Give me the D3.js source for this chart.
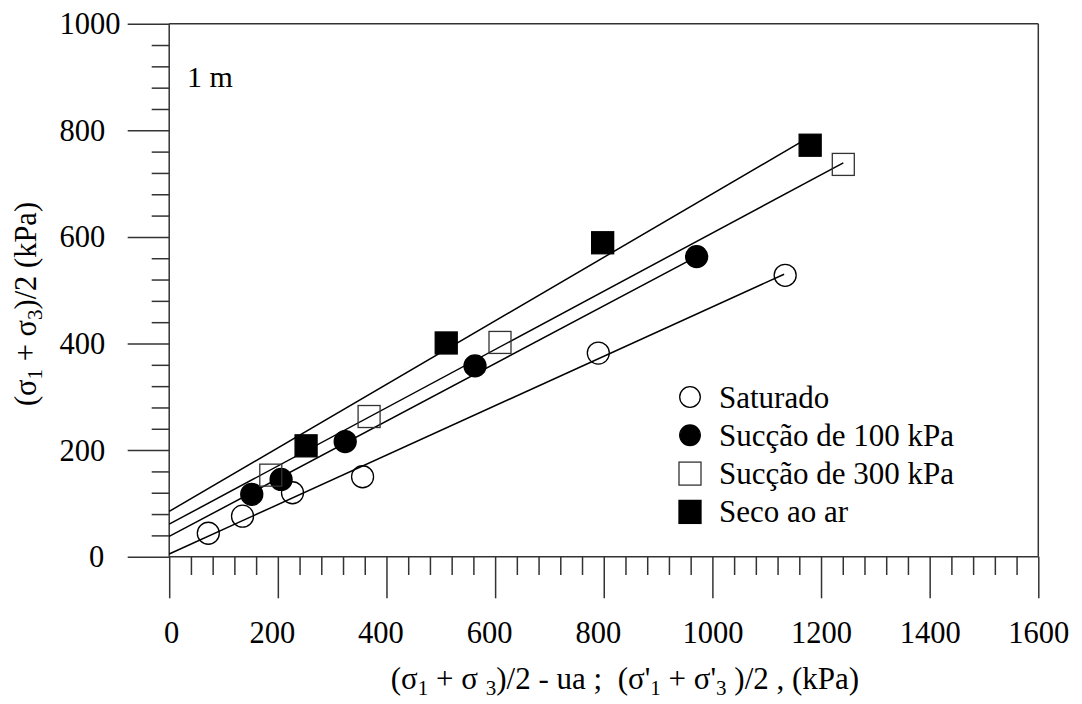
<!DOCTYPE html>
<html>
<head>
<meta charset="utf-8">
<script src="https://cdn.jsdelivr.net/npm/d3@7"></script>
<style>
  body { margin: 0; background: #fff; }
  #chart text, #chart tspan { font-family: "Liberation Serif", "Times New Roman", Tinos, serif; }
</style>
</head>
<body>
<svg id="chart" width="1082" height="704" font-family="Liberation Serif"></svg>
<script>
// ---- data ----
const xTickValues = [0, 200, 400, 600, 800, 1000, 1200, 1400, 1600];
const yTickValues = [0, 200, 400, 600, 800, 1000];
const xTickLabels = ["0", "200", "400", "600", "800", "1000", "1200", "1400", "1600"];
const yTickLabels = ["0", "200", "400", "600", "800", "1000"];
const seriesNames = ["Saturado", "Sucção de 100 kPa", "Sucção de 300 kPa", "Seco ao ar"];

// mean stress (x) vs. half deviator (y), kPa
const saturadoX = [72, 135, 227, 356, 790, 1134];
const saturadoY = [44, 76, 120, 150, 382, 528];
const succao100X = [152, 206, 324, 563, 971];
const succao100Y = [117, 145, 216, 358, 563];
const succao300X = [187, 368, 609, 1241];
const succao300Y = [153, 263, 402, 736];
const secoX = [252, 510, 798, 1180];
const secoY = [208, 401, 589, 772];

// fitted envelopes: [start, end] in kPa
const trendSaturado = [[0, 5], [1132, 530]];
const trendSuccao100 = [[0, 38], [971, 563]];
const trendSuccao300 = [[0, 61], [1241, 739]];
const trendSeco = [[0, 85], [1180, 788]];

const depthLabel = "1 m";

// ---- layout ----
const svg = d3.select("#chart");
const x = d3.scaleLinear().domain([0, 1600]).range([169.2, 1038.3]);
const y = d3.scaleLinear().domain([0, 1000]).range([556.7, 23.7]);
const axisColor = "#333";
const step = 40;
const xMinor = d3.range(0, 1600 + 1, step).filter(v => v % 200 !== 0);
const yMinor = d3.range(0, 1000 + 1, step).filter(v => v % 200 !== 0);

// minor ticks
svg.append("g")
  .attr("transform", `translate(0,${y(0)})`)
  .call(d3.axisBottom(x).tickValues(xMinor).tickSize(18.3).tickFormat(""))
  .call(g => g.select(".domain").remove())
  .call(g => g.selectAll("text").remove());
svg.append("g")
  .attr("transform", `translate(${x(0)},0)`)
  .call(d3.axisLeft(y).tickValues(yMinor).tickSize(17.5).tickFormat(""))
  .call(g => g.select(".domain").remove())
  .call(g => g.selectAll("text").remove());

// major ticks + labels
const gx = svg.append("g")
  .attr("transform", `translate(0,${y(0)})`)
  .call(d3.axisBottom(x).tickValues(xTickValues).tickSize(41.6)
    .tickFormat((d, i) => xTickLabels[i]))
  .call(g => g.select(".domain").remove());
gx.selectAll("text")
  .attr("y", 86).attr("dy", null)
  .attr("dx", d => { const n = String(d).length; return n === 1 ? 2 : (n === 3 ? -6 : 0); });

const gy = svg.append("g")
  .attr("transform", `translate(${x(0)},0)`)
  .call(d3.axisLeft(y).tickValues(yTickValues).tickSize(41.5)
    .tickFormat((d, i) => yTickLabels[i]))
  .call(g => g.select(".domain").remove());
gy.selectAll("text")
  .attr("dy", null).attr("y", 10)
  .attr("text-anchor", d => String(d).length === 1 ? "end" : "start")
  .attr("x", d => String(d).length === 1 ? -65 : -109.7);

// axis groups carry their own font attributes; drop them
svg.selectAll("g").attr("font-family", null).attr("font-size", null);
svg.selectAll(".tick line").attr("stroke", axisColor).attr("stroke-width", 1.5);
gx.selectAll("text").attr("font-size", 30.5);
gy.selectAll("text").attr("font-size", 30.5);

// frame
const frame = svg.append("g").attr("stroke", axisColor).attr("stroke-width", 1.5).attr("fill", "none");
frame.append("line").attr("x1", x(0)).attr("x2", x(1600)).attr("y1", y(1000)).attr("y2", y(1000));
frame.append("line").attr("x1", x(0)).attr("x2", x(1600)).attr("y1", y(0)).attr("y2", y(0));
frame.append("line").attr("x1", x(0)).attr("x2", x(0)).attr("y1", y(1000)).attr("y2", y(0));
frame.append("line").attr("x1", x(1600)).attr("x2", x(1600)).attr("y1", y(1000)).attr("y2", y(0));

// trend lines
const line = d3.line().x(d => x(d[0])).y(d => y(d[1]));
[trendSaturado, trendSuccao100, trendSuccao300, trendSeco].forEach(t => {
  svg.append("path").attr("d", line(t))
    .attr("fill", "none").attr("stroke", "#000").attr("stroke-width", 1.5);
});

// markers
const R = 11, S = 22;
function drawCircles(xs, ys, filled) {
  svg.append("g").selectAll("circle").data(xs).join("circle")
    .attr("cx", d => x(d)).attr("cy", (d, i) => y(ys[i])).attr("r", R)
    .attr("fill", filled ? "#000" : "none")
    .attr("stroke", "#000").attr("stroke-width", 1.3);
}
function drawSquares(xs, ys, filled) {
  svg.append("g").selectAll("rect").data(xs).join("rect")
    .attr("x", d => x(d) - S / 2).attr("y", (d, i) => y(ys[i]) - S / 2)
    .attr("width", S).attr("height", S)
    .attr("fill", filled ? "#000" : "none")
    .attr("stroke", filled ? "#000" : "#333").attr("stroke-width", 1.3);
}
drawCircles(saturadoX, saturadoY, false);
drawCircles(succao100X, succao100Y, true);
drawSquares(succao300X, succao300Y, false);
drawSquares(secoX, secoY, true);

// legend
const legend = svg.append("g").attr("transform", "translate(690,397)");
const rowH = 38.3;
seriesNames.forEach((name, i) => {
  const ry = i * rowH;
  if (i < 2) {
    legend.append("circle").attr("cx", 0).attr("cy", ry).attr("r", 10.3)
      .attr("fill", i === 1 ? "#000" : "none").attr("stroke", "#000").attr("stroke-width", 1.3);
  } else {
    legend.append("rect").attr("x", -11).attr("y", ry - 11.5).attr("width", 22).attr("height", 23)
      .attr("fill", i === 3 ? "#000" : "none").attr("stroke", i === 3 ? "#000" : "#333").attr("stroke-width", 1.3);
  }
  legend.append("text").attr("x", 29).attr("y", ry + 10.5)
    .attr("font-size", 31).text(name);
});

// depth annotation
svg.append("text").attr("x", 187).attr("y", 87).attr("font-size", 30).text(depthLabel);

// rich text with subscripts: sub parts are one-element arrays
function richText(sel, parts, subShift, subSize) {
  let pending = 0;
  parts.forEach(p => {
    const isSub = Array.isArray(p);
    const dy = (isSub ? subShift : 0) - pending;
    const t = sel.append("tspan")
      .attr("dy", dy !== 0 ? dy : null)
      .text(isSub ? p[0] : p);
    if (isSub) t.attr("font-size", subSize);
    pending = isSub ? subShift : 0;
  });
}

const xTitle = svg.append("text")
  .attr("x", 625).attr("y", 689)
  .attr("text-anchor", "middle").attr("font-size", 31)
  .style("white-space", "pre");
richText(xTitle, ["(σ", ["1"], " + σ ", ["3"], ")/2 - ua ;  (σ'", ["1"], " + σ'", ["3"], " )/2 , (kPa)"], 6, 21);

const yTitle = svg.append("text")
  .attr("transform", "translate(36,304) rotate(-90)")
  .attr("text-anchor", "middle").attr("font-size", 30.5)
  .style("white-space", "pre");
richText(yTitle, ["(σ", ["1"], " + σ", ["3"], ")/2 (kPa)"], 6, 21);

svg.selectAll("text").attr("fill", "#000");
</script>
</body>
</html>
